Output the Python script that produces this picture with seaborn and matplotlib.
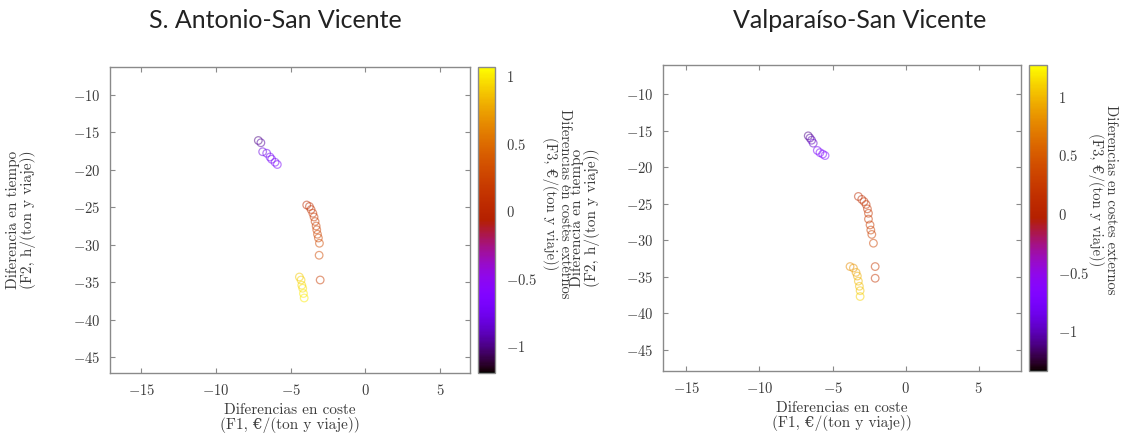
import numpy as np
import pandas as pd
import matplotlib
matplotlib.use("Agg")
import matplotlib.pyplot as plt
import seaborn as sns
from matplotlib.colors import Normalize
from matplotlib.cm import ScalarMappable

sns.set_style("ticks")
plt.rcParams["font.family"] = ["cmr10", "DejaVu Serif"]
plt.rcParams["mathtext.fontset"] = "cm"
plt.rcParams["axes.formatter.use_mathtext"] = True

# ---------------- data ----------------
titles = ["S. Antonio-San Vicente", "Valparaíso-San Vicente"]

x_sa = [-7.17, -7.00, -6.88, -6.61, -6.39, -6.28, -6.05, -5.90,
        -3.93, -3.75, -3.64, -3.52, -3.44, -3.37, -3.30, -3.26, -3.21, -3.15, -3.08, -3.10,
        -3.03,
        -4.42, -4.31, -4.26, -4.20, -4.15, -4.10]
y_sa = [-16.1, -16.4, -17.6, -17.8, -18.3, -18.6, -19.0, -19.3,
        -24.7, -24.9, -25.3, -25.8, -26.3, -26.9, -27.5, -28.0, -28.6, -29.1, -29.8, -31.4,
        -34.7,
        -34.3, -34.7, -35.4, -35.8, -36.5, -37.1]
c_sa = [-1.00, -0.95, -0.80, -0.75, -0.72, -0.70, -0.70, -0.68,
        0.05, 0.08, 0.10, 0.15, 0.18, 0.20, 0.22, 0.24, 0.26, 0.28, 0.30, 0.30,
        0.20,
        0.90, 0.92, 0.95, 0.97, 1.00, 1.00]

x_vs = [-6.66, -6.54, -6.43, -6.32, -6.04, -5.86, -5.67, -5.51,
        -3.23, -3.00, -2.84, -2.70, -2.61, -2.54, -2.54, -2.43, -2.38, -2.31, -2.20,
        -2.08, -2.08,
        -3.80, -3.57, -3.39, -3.30, -3.23, -3.16, -3.11, -3.11]
y_vs = [-15.7, -16.0, -16.3, -16.7, -17.7, -18.0, -18.2, -18.4,
        -24.0, -24.4, -24.7, -25.1, -25.7, -26.3, -27.1, -27.9, -28.6, -29.2, -30.4,
        -33.6, -35.2,
        -33.6, -33.8, -34.4, -34.9, -35.6, -36.3, -36.9, -37.7]
c_vs = [-1.10, -1.05, -1.00, -0.95, -0.75, -0.72, -0.70, -0.68,
        0.10, 0.12, 0.15, 0.18, 0.20, 0.22, 0.25, 0.28, 0.30, 0.32, 0.35,
        0.25, 0.20,
        0.80, 0.85, 0.90, 0.95, 1.00, 1.02, 1.05, 1.10]

x_ticks = [-15, -10, -5, 0, 5]
y_ticks = [-10, -15, -20, -25, -30, -35, -40, -45]
c_ticks = [-1, -0.5, 0, 0.5, 1]
c_ticklabels = ["$-1$", "$-0.5$", "$0$", "$0.5$", "$1$"]

xlabel = "Diferencias en coste\n(F1, €/(ton y viaje))"
ylabel = "Diferencia en tiempo\n(F2, h/(ton y viaje))"
clabel = "Diferencias en costes externos\n(F3, €/(ton y viaje))"

# ---------------- layout ----------------
W, H = 1126, 442
fig = plt.figure(figsize=(W / 100, H / 100), dpi=100)

def fx(px):
    return px / W

def fy(py):
    return 1 - py / H

panels = [
    dict(x=x_sa, y=y_sa, c=c_sa, title=titles[0],
         ax=(110, 67, 470, 373), cax=(478, 67, 495, 373),
         xlim=(-17.1, 7.0), ylim=(-47.1, -6.3), clim=(-1.2, 1.07),
         tx=275, ylx=-0.205, clx=557, cly=204),
    dict(x=x_vs, y=y_vs, c=c_vs, title=titles[1],
         ax=(663, 65, 1021, 371), cax=(1029, 65, 1047, 371),
         xlim=(-16.6, 7.9), ylim=(-47.9, -6.0), clim=(-1.34, 1.27),
         tx=860, ylx=-0.175, clx=1103, cly=200),
]

grey = "#8a8a8a"
tcol = "#3c3c3c"

for p in panels:
    l, t, r, b = p["ax"]
    ax = fig.add_axes([fx(l), fy(b), fx(r) - fx(l), fy(t) - fy(b)])
    df = pd.DataFrame({"x": p["x"], "y": p["y"], "c": p["c"]})
    norm = Normalize(*p["clim"])
    sns.scatterplot(data=df, x="x", y="y", hue="c", palette="gnuplot",
                    hue_norm=norm, s=30, linewidth=0.9, legend=False, ax=ax)
    coll = ax.collections[0]
    fc = coll.get_facecolors().copy()
    fc[:, 3] = 0.5
    coll.set_edgecolors(fc)
    coll.set_facecolors("none")

    ax.set_xlim(*p["xlim"])
    ax.set_ylim(*p["ylim"])
    ax.set_xticks(x_ticks)
    ax.set_yticks(y_ticks)
    for s in ax.spines.values():
        s.set_color(grey)
        s.set_linewidth(1.0)
    ax.tick_params(direction="in", top=True, right=True, length=3.5,
                   width=0.8, color=grey, labelcolor=tcol, labelsize=10.5)
    ax.tick_params(axis="x", pad=7)
    ax.tick_params(axis="y", pad=7)
    ax.set_xlabel(xlabel, fontsize=11, color=tcol, linespacing=1.0)
    ax.set_ylabel(ylabel, fontsize=11, color=tcol, linespacing=1.0)
    ax.xaxis.set_label_coords(0.5, -0.1)
    ax.yaxis.set_label_coords(p["ylx"], 0.5)
    ax.xaxis.label.set_va("top")

    cl, ct, cr, cb = p["cax"]
    cax = fig.add_axes([fx(cl), fy(cb), fx(cr) - fx(cl), fy(ct) - fy(cb)])
    sm = ScalarMappable(norm=norm, cmap="gnuplot")
    cbar = fig.colorbar(sm, cax=cax, ticks=c_ticks)
    cbar.outline.set_edgecolor(grey)
    cbar.outline.set_linewidth(1.0)
    cax.tick_params(direction="in", length=3, width=0.8, color=grey,
                    labelcolor=tcol, labelsize=10.5, pad=8)
    cax.set_yticklabels(c_ticklabels)

    fig.text(fx(p["clx"]), fy(p["cly"]), clabel, rotation=270, ha="center",
             va="center", fontsize=10.5, color=tcol, linespacing=1.0,
             multialignment="center")

    fig.text(fx(p["tx"]), fy(20), p["title"], ha="center", va="center",
             fontsize=18, family=["Lato", "DejaVu Sans"], color="#222222")

fig.savefig("out.png", dpi=100, facecolor="white")
